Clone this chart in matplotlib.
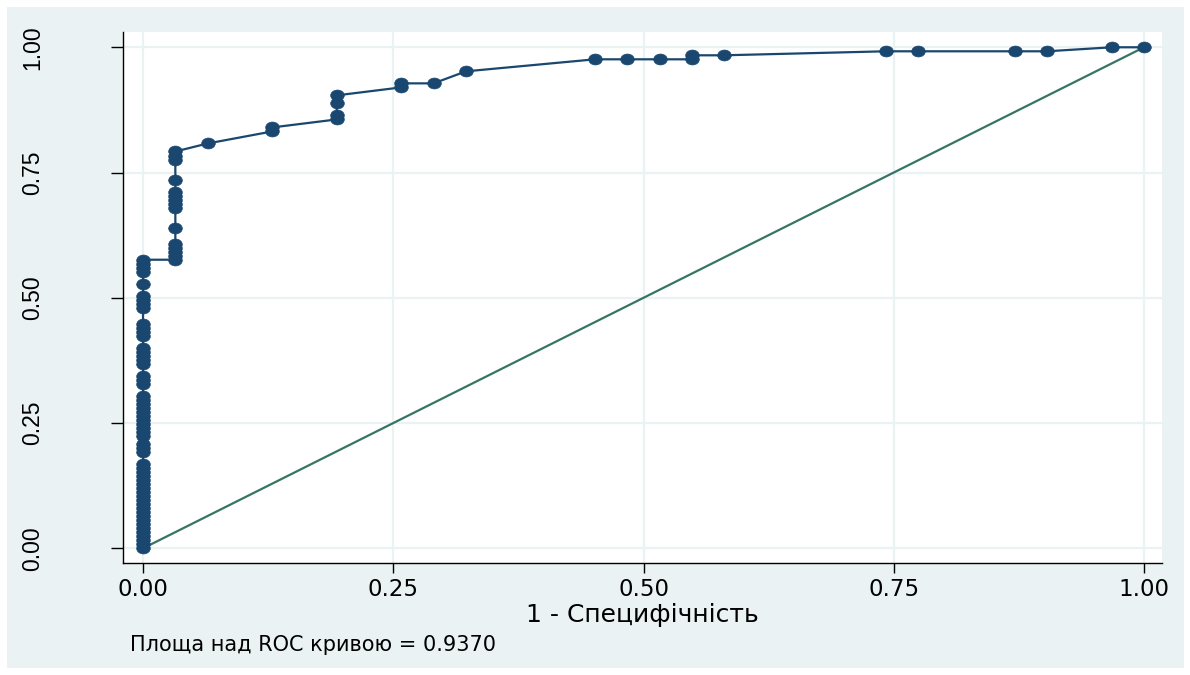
import numpy as np
import matplotlib
matplotlib.use("Agg")
import matplotlib.pyplot as plt
from matplotlib.path import Path
from matplotlib.transforms import Affine2D
from matplotlib.patches import Rectangle

# ROC points (1 - specificity, sensitivity), in plotting order
fpr = [0.0] * 57 + [0.0323] * 15 + [
    0.0645,
    0.1290, 0.1290,
    0.1935, 0.1935, 0.1935, 0.1935,
    0.2581, 0.2581,
    0.2903,
    0.3226,
    0.4516, 0.4839, 0.5161, 0.5484, 0.5484, 0.5806,
    0.7419, 0.7742, 0.8710, 0.9032,
    0.9677, 1.0,
]
tpr = [
    # 1 - specificity = 0
    0.000, 0.008, 0.016, 0.024, 0.032, 0.040, 0.048, 0.056, 0.064, 0.072,
    0.080, 0.088, 0.096, 0.104, 0.112, 0.120, 0.128, 0.136, 0.144, 0.152,
    0.160, 0.168,
    0.192, 0.200, 0.208,
    0.224, 0.232, 0.240, 0.248, 0.256, 0.264, 0.272, 0.280, 0.288, 0.296, 0.304,
    0.328, 0.336, 0.344,
    0.368, 0.376, 0.384, 0.392, 0.400,
    0.424, 0.432, 0.440, 0.448,
    0.480, 0.488, 0.496, 0.504,
    0.528,
    0.552, 0.560, 0.568, 0.576,
    # 1 - specificity = 1/31
    0.576, 0.584, 0.592, 0.600, 0.608, 0.640,
    0.680, 0.688, 0.696, 0.704, 0.712, 0.736,
    0.776, 0.784, 0.792,
    # rest
    0.808,
    0.832, 0.840,
    0.856, 0.864, 0.888, 0.904,
    0.920, 0.928,
    0.928,
    0.952,
    0.976, 0.976, 0.976, 0.976, 0.984, 0.984,
    0.992, 0.992, 0.992, 0.992,
    1.000, 1.000,
]

ticks = [0.0, 0.25, 0.5, 0.75, 1.0]
tick_labels = ["0.00", "0.25", "0.50", "0.75", "1.00"]
x_title = "1 - Специфічність"
note = "Площа над ROC кривою = 0.9370"

NAVY = "#1A476F"
TEAL = "#367565"
BG = "#EAF2F3"
WIDE = ["DejaVu Sans"]          # reference text is stretched sideways

plt.rcParams["font.family"] = ["Liberation Sans", "DejaVu Sans"]

fig = plt.figure(figsize=(11.9, 6.75), dpi=100)
fig.patch.set_facecolor("white")
fig.patches.append(Rectangle((7 / 1190, 7 / 675), 1177 / 1190, 661 / 675,
                             transform=fig.transFigure, facecolor=BG,
                             edgecolor="none", zorder=-1))

ax = fig.add_axes([123 / 1190, 112 / 675, 1039 / 1190, 531 / 675])
ax.set_facecolor("white")

# slightly wide ellipse marker, like the Stata output
ell = Path.unit_circle().transformed(Affine2D().scale(1.0, 0.8))

ax.plot([0, 1], [0, 1], color=TEAL, lw=1.6, zorder=3)
ax.plot(fpr, tpr, color=NAVY, lw=1.6, marker=ell, ms=9.8,
        mfc=NAVY, mec=NAVY, mew=0.5, zorder=4)

ax.set_xlim(-0.020, 1.018)
ax.set_ylim(-0.0293, 1.0305)
ax.set_xticks(ticks)
ax.set_xticklabels(tick_labels, family=WIDE, fontsize=16.5)
ax.set_yticks(ticks)
ax.set_yticklabels(tick_labels, rotation=90, va="center", fontsize=16.5)
ax.grid(True, color=BG, lw=1.6, zorder=0)
ax.set_axisbelow(True)

for side in ("top", "right"):
    ax.spines[side].set_visible(False)
for side in ("left", "bottom"):
    ax.spines[side].set_linewidth(1.0)
ax.tick_params(axis="x", length=7.5, width=1.0, pad=3)
ax.tick_params(axis="y", length=8.5, width=1.0, pad=48)

ax.set_xlabel(x_title, family=WIDE, fontsize=18, labelpad=1.5)
fig.text(130 / 1190, 30 / 675, note, family=WIDE, fontsize=15,
         va="center", ha="left")

fig.savefig("out.png", dpi=100)
